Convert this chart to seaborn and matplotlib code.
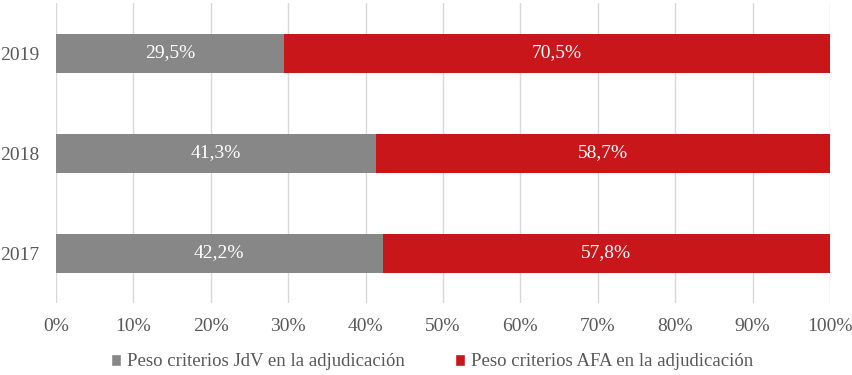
import numpy as np
import pandas as pd
import matplotlib
matplotlib.use('Agg')
import matplotlib.pyplot as plt
import seaborn as sns
from matplotlib.patches import Patch

# Data
years = ['2019', '2018', '2017']
jdv = [29.5, 41.3, 42.2]
afa = [70.5, 58.7, 57.8]
labels = ['Peso criterios JdV en la adjudicación', 'Peso criterios AFA en la adjudicación']

GRAY = '#878787'
RED = '#C8161B'
TXT = '#595959'

sns.set_style('white')
plt.rcParams['font.family'] = ['Liberation Serif', 'DejaVu Serif']

df = pd.DataFrame({'year': years, 'jdv': jdv, 'afa': afa})
df['total'] = df['jdv'] + df['afa']

fig = plt.figure(figsize=(8.53, 3.75), dpi=100)
ax = fig.add_axes([56 / 853, 1 - 303 / 375, (830 - 56) / 853, 300 / 375])

sns.barplot(data=df, x='total', y='year', order=years, color=RED, width=0.39,
            orient='h', ax=ax, saturation=1, linewidth=0, zorder=3)
sns.barplot(data=df, x='jdv', y='year', order=years, color=GRAY, width=0.39,
            orient='h', ax=ax, saturation=1, linewidth=0, zorder=3)

for i, (a, b) in enumerate(zip(jdv, afa)):
    ax.text(a / 2, i, f'{a:.1f}%'.replace('.', ','), ha='center', va='center',
            color='white', fontsize=14, zorder=4)
    ax.text(a + b / 2, i, f'{b:.1f}%'.replace('.', ','), ha='center', va='center',
            color='white', fontsize=14, zorder=4)

ax.set_xlim(0, 100)
ax.set_ylim(2.5, -0.5)
ax.set_xticks(np.arange(0, 101, 10))
ax.set_xticklabels([f'{v}%' for v in range(0, 101, 10)])
ax.xaxis.grid(True, color='#D9D9D9', linewidth=1, zorder=0)
ax.set_axisbelow(True)
for s in ax.spines.values():
    s.set_visible(False)
ax.tick_params(axis='both', length=0, labelsize=14, labelcolor=TXT)
ax.tick_params(axis='y', pad=12)
ax.tick_params(axis='x', pad=11)
ax.set_xlabel('')
ax.set_ylabel('')

handles = [Patch(facecolor=GRAY, label=labels[0]), Patch(facecolor=RED, label=labels[1])]
fig.legend(handles=handles, loc='center', bbox_to_anchor=(432 / 853, 1 - 362 / 375), ncol=2,
           frameon=False, fontsize=13.5, handlelength=0.55, handleheight=0.55,
           handletextpad=0.3, columnspacing=2.7, labelcolor=TXT)

fig.savefig('out.png', dpi=100, facecolor='white')
